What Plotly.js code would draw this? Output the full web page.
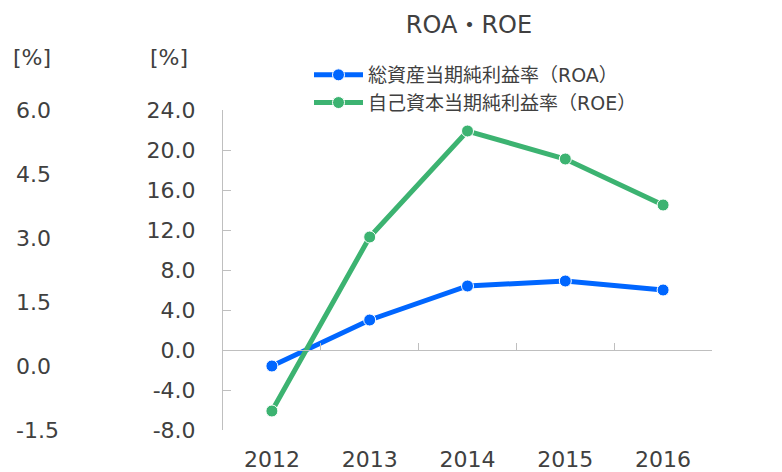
<!DOCTYPE html>
<html>
<head>
<meta charset="utf-8">
<script src="https://cdn.plot.ly/plotly-3.0.1.min.js"></script>
<style>html,body{margin:0;padding:0;background:#fff;}#chart{width:782px;height:472px;}</style>
</head>
<body>
<div id="chart"></div>
<script>
const years = ['2012', '2013', '2014', '2015', '2016'];
const roa = [-1.6, 3.0, 6.4, 6.9, 6.0];
const roe = [-6.1, 11.3, 21.9, 19.1, 14.5];
const roaName = '総資産当期純利益率（ROA）';
const roeName = '自己資本当期純利益率（ROE）';
const titleText = 'ROA・ROE';
const unitLabel = '[%]';
const innerTickVals = [-8, -4, 0, 4, 8, 12, 16, 20, 24];
const innerTickText = ['-8.0', '-4.0', '0.0', '4.0', '8.0', '12.0', '16.0', '20.0', '24.0'];
const outerTickVals = [-1.5, 0, 1.5, 3, 4.5, 6];
const outerTickText = ['-1.5', '0.0', '1.5', '3.0', '4.5', '6.0'];

const FONT = 'DejaVu Sans, Verdana, Noto Sans CJK JP, sans-serif';
const TXT = '#404040';
const AX = '#bfbfbf';

const W = 782, H = 472, L = 10, R = 70, T = 110, B = 42;
const pw = W - L - R, ph = H - T - B;
const px2x = p => (p - L) / pw;
const px2y = p => (H - B - p) / ph;

const traces = [
  {x: years, y: roa, name: roaName, type: 'scatter', mode: 'lines+markers',
   line: {color: '#0066ff', width: 5},
   marker: {color: '#0066ff', size: 12, line: {color: '#ffffff', width: 1}},
   legendgroup: 'a'},
  {x: years, y: roe, name: roeName, type: 'scatter', mode: 'lines+markers',
   line: {color: '#3cb371', width: 5},
   marker: {color: '#3cb371', size: 12, line: {color: '#ffffff', width: 1}},
   legendgroup: 'b'},
  {x: [], y: [], yaxis: 'y2', type: 'scatter', mode: 'lines', showlegend: false, hoverinfo: 'skip'}
];

const layout = {
  width: W, height: H,
  margin: {l: L, r: R, t: T, b: B, pad: 0, autoexpand: false},
  paper_bgcolor: '#ffffff', plot_bgcolor: 'rgba(0,0,0,0)',
  font: {family: FONT, color: TXT, size: 22},
  title: {text: titleText, font: {size: 24, color: TXT, family: FONT},
          x: 469 / W, xref: 'container', xanchor: 'center',
          y: 1 - 25 / H, yref: 'container', yanchor: 'middle', automargin: false},
  showlegend: true,
  legend: {xref: 'container', yref: 'container', x: 309 / W, y: 1 - 56 / H,
           xanchor: 'left', yanchor: 'top', orientation: 'v',
           font: {size: 19, color: TXT, family: FONT},
           bgcolor: 'rgba(0,0,0,0)', itemwidth: 49, tracegroupgap: 3,
           traceorder: 'normal'},
  xaxis: {domain: [px2x(223), 1], type: 'category', range: [-0.5, 4.5],
          anchor: 'free', position: 0.25,
          showline: true, linecolor: AX, linewidth: 1,
          ticks: 'inside', tickson: 'boundaries', ticklen: 7, tickcolor: AX, tickwidth: 1,
          ticklabelstandoff: 90, showgrid: false, zeroline: false,
          tickfont: {size: 22, color: TXT}, automargin: false, fixedrange: true},
  yaxis: {range: [-8, 24], tickmode: 'array', tickvals: innerTickVals, ticktext: innerTickText,
          showline: true, linecolor: AX, linewidth: 1,
          ticks: 'inside', ticklen: 8, tickcolor: AX, tickwidth: 1,
          showgrid: false, zeroline: false,
          ticklabelstandoff: 22, tickfont: {size: 22, color: TXT},
          automargin: false, fixedrange: true},
  yaxis2: {range: [-1.5, 6], tickmode: 'array', tickvals: outerTickVals, ticktext: outerTickText,
           overlaying: 'y', anchor: 'free', position: 0, side: 'right',
           showline: false, ticks: '', showgrid: false, zeroline: false,
           ticklabelstandoff: 5, tickfont: {size: 22, color: TXT},
           automargin: false, fixedrange: true},
  annotations: [
    {text: unitLabel, xref: 'paper', yref: 'paper', x: px2x(32), y: px2y(58),
     xanchor: 'center', yanchor: 'middle', showarrow: false, font: {size: 22, color: TXT}},
    {text: unitLabel, xref: 'paper', yref: 'paper', x: px2x(169), y: px2y(58),
     xanchor: 'center', yanchor: 'middle', showarrow: false, font: {size: 22, color: TXT}}
  ]
};

Plotly.newPlot('chart', traces, layout, {staticPlot: true, displayModeBar: false});
</script>
</body>
</html>
